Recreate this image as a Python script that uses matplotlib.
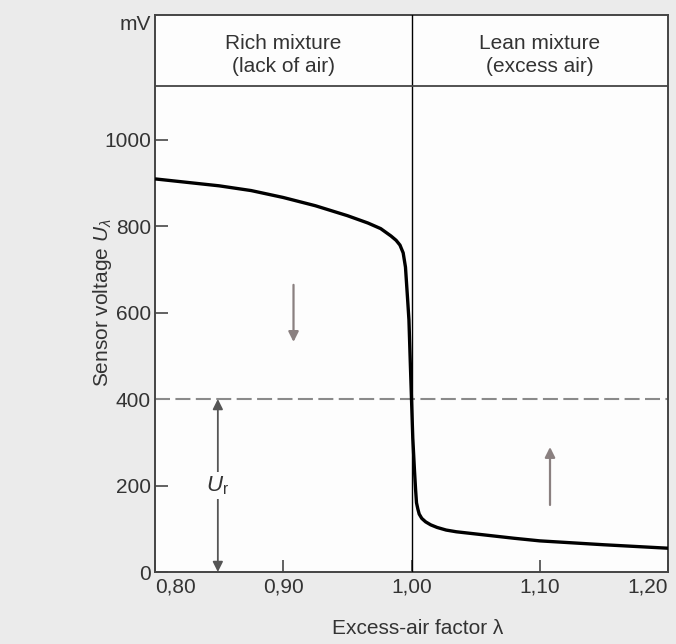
import matplotlib.pyplot as plt

plt.rcParams['font.family'] = ['Liberation Sans', 'DejaVu Sans']
plt.rcParams['mathtext.fontset'] = 'custom'
plt.rcParams['mathtext.rm'] = 'Liberation Sans'
plt.rcParams['mathtext.it'] = 'Liberation Sans:italic'

# sensor curve
lam = [0.80, 0.825, 0.85, 0.875, 0.90, 0.925, 0.95, 0.966, 0.976, 0.984, 0.988, 0.991,
       0.9935, 0.9953, 0.997, 0.998, 0.999, 1.000, 1.001, 1.0023, 1.0032, 1.0039,
       1.005, 1.006, 1.008, 1.011, 1.015, 1.02, 1.027, 1.035, 1.05, 1.08, 1.10, 1.15, 1.20]
volt = [909, 901, 893, 882, 866, 847, 824, 807, 794, 777, 767, 756,
        738, 705, 629, 583, 490, 400, 310, 236, 190, 160,
        145, 134, 124, 116, 109, 103, 97, 93, 88, 78, 72, 63, 55]

xticks = [0.80, 0.90, 1.00, 1.10, 1.20]
xticklabels = ['0,80', '0,90', '1,00', '1,10', '1,20']
yticks = [0, 200, 400, 600, 800, 1000]
u_ref = 400
header_y = 1124
ytop = 1288
regions = ['Rich mixture\n(lack of air)', 'Lean mixture\n(excess air)']
region_x = [0.90, 1.10]

txt = '#333333'
fs = 15
fig = plt.figure(figsize=(6.76, 6.44), dpi=100, facecolor='#ebebeb')
ax = fig.add_axes([155/676, 1-572/644, 513/676, 557/644])
ax.set_facecolor('#fdfdfd')

ax.plot(lam, volt, color='black', lw=2.4, solid_capstyle='butt',
        solid_joinstyle='round', zorder=4)
ax.axhline(u_ref, color='#8a8a8a', lw=1.5, dashes=(7.2, 2.6), zorder=2)
ax.axvline(1.00, color='black', lw=1.0, zorder=3)
ax.axhline(header_y, color='#444444', lw=1.3, zorder=3)

for x, s in zip(region_x, regions):
    ax.text(x, 1195, s, ha='center', va='center',
            fontsize=fs, color=txt, linespacing=1.3)

# U_r arrow
ax.annotate('', xy=(0.849, 0), xytext=(0.849, u_ref),
            arrowprops=dict(arrowstyle='<|-|>', color='#555555', lw=1.3,
                            mutation_scale=15, shrinkA=0, shrinkB=0))
ax.text(0.849, 200, r'$U_\mathrm{r}$', ha='center', va='center', fontsize=16,
        color=txt, bbox=dict(facecolor='#fdfdfd', edgecolor='none', pad=2))

# direction arrows
ax.annotate('', xy=(0.908, 532), xytext=(0.908, 664),
            arrowprops=dict(arrowstyle='-|>', color='#8a8080', lw=1.6,
                            mutation_scale=15, shrinkA=0, shrinkB=0))
ax.annotate('', xy=(1.108, 289), xytext=(1.108, 155),
            arrowprops=dict(arrowstyle='-|>', color='#8a8080', lw=1.6,
                            mutation_scale=15, shrinkA=0, shrinkB=0))

ax.set_xlim(0.80, 1.20)
ax.set_ylim(0, ytop)
ax.set_xticks(xticks)
ax.set_xticklabels(xticklabels)
ax.set_yticks(yticks)
labs = ax.get_xticklabels()
labs[0].set_ha('left')
labs[-1].set_ha('right')
ax.tick_params(direction='in', length=9, width=1.3, color='#555555',
               labelsize=fs, labelcolor=txt)
ax.tick_params(axis='x', pad=4)
ax.tick_params(axis='y', pad=3)
for sp in ax.spines.values():
    sp.set_color('#444444')
    sp.set_linewidth(1.4)

ax.text(-0.008, 1.0, 'mV', transform=ax.transAxes, ha='right', va='top',
        fontsize=fs, color=txt)
fig.text(418/676, 1-628/644, 'Excess-air factor λ', ha='center', va='center',
         fontsize=fs, color=txt)
fig.text(103/676, 1-303/644, r'Sensor voltage $U_\lambda$', ha='center', va='center',
         rotation=90, fontsize=fs, color=txt)

fig.savefig('out.png', dpi=100, facecolor=fig.get_facecolor())
